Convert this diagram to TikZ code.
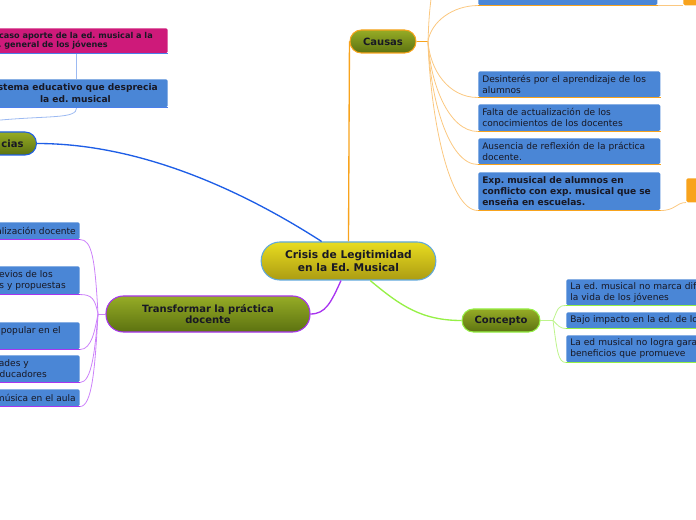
\documentclass[tikz,border=0pt]{standalone}
\usepackage{fontspec}
\setmainfont{DejaVu Sans}
\usepackage{tikz}
\frenchspacing
\definecolor{boxblue}{RGB}{74,134,214}
\definecolor{txt}{RGB}{24,24,36}
\definecolor{olivetop}{RGB}{150,172,38}
\definecolor{olivebot}{RGB}{92,114,16}
\definecolor{yeltop}{RGB}{232,220,32}
\definecolor{yelbot}{RGB}{172,156,18}
\definecolor{orangemain}{RGB}{248,163,28}
\definecolor{orangethin}{RGB}{251,200,128}
\definecolor{greenmain}{RGB}{150,240,70}
\definecolor{greenthin}{RGB}{190,244,140}
\definecolor{purplemain}{RGB}{168,52,240}
\definecolor{purplethin}{RGB}{204,130,250}
\definecolor{bluemain}{RGB}{30,94,230}
\definecolor{bluethin}{RGB}{156,186,242}
\definecolor{borderblue}{RGB}{96,168,220}
\definecolor{pinkbox}{RGB}{206,26,122}

\begin{document}
\begin{tikzpicture}[x=0.75pt, y=-0.75pt,
  pill/.style={draw, line width=0.8pt, rounded corners=8.5pt, top color=olivetop, bottom color=olivebot,
    text=txt, align=center, font=\fontsize{7.5}{8.5}\selectfont\bfseries},
  box/.style={fill=boxblue, rounded corners=1.2pt, inner xsep=3pt, inner ysep=1.5pt, align=left,
    text=txt, font=\fontsize{6.8}{8}\selectfont},
  ln/.style={inner sep=0pt, anchor=east, text=txt, font=\fontsize{6.8}{8}\selectfont},
  under/.style={line width=1.2pt},
  conn/.style={line width=0.6pt}]
\useasboundingbox (0,0) rectangle (696,520);
\clip (0,0) rectangle (696,520);

% central topic
\node[pill, draw=borderblue, top color=yeltop, bottom color=yelbot, rounded corners=14pt,
  minimum width=131pt, minimum height=28.5pt, font=\fontsize{8}{9.75}\selectfont\bfseries]
  (crisis) at (348.5,261) {Crisis de Legitimidad\\en la Ed. Musical};

% main branches
\node[pill, draw=orangemain, minimum width=49.5pt, minimum height=17.25pt] (causas) at (383,41.5) {Causas};
\node[pill, draw=greenmain, minimum width=58.5pt, minimum height=17.25pt] (concepto) at (501,320.5) {Concepto};
\node[pill, draw=purplemain, rounded corners=13pt, minimum width=153pt, minimum height=27pt]
  (transf) at (208,314) {Transformar la práctica\\docente};
\node[pill, draw=bluemain, anchor=east, minimum width=90pt, minimum height=17.25pt, inner xsep=9.75pt,
  text width=70.5pt, align=right] (cons) at (37,143.5) {cias};

% Causas
\node[box, anchor=north west, text width=128.25pt, minimum height=26.25pt] (c0) at (478,-30) {};
\node[box, anchor=north west, text width=130.5pt, minimum height=19.5pt] (c1) at (478,71)
  {Desinterés por el aprendizaje de los\\alumnos};
\node[box, anchor=north west, text width=130.5pt, minimum height=20.25pt] (c2) at (478,104)
  {Falta de actualización de los\\conocimientos de los docentes};
\node[box, anchor=north west, text width=130.5pt, minimum height=19.5pt] (c3) at (478,138)
  {Ausencia de reflexión de la práctica\\docente.};
\node[box, anchor=north west, text width=130.5pt, minimum height=28.5pt, font=\fontsize{6.8}{8.2}\selectfont\bfseries] (c4) at (478,172)
  {Exp. musical de alumnos en\\conflicto con exp. musical que se\\enseña en escuelas.};
\node[fill=orangemain, rounded corners=1.2pt, anchor=north west, minimum width=30pt, minimum height=18.75pt] (o1) at (683,-20) {};
\node[fill=orangemain, rounded corners=1.2pt, anchor=north west, minimum width=30pt, minimum height=18pt] (o2) at (686,178) {};

% Concepto
\node[box, anchor=north west, text width=150pt, minimum height=19.5pt] (k1) at (566,279)
  {La ed. musical no marca dif\\la vida de los jóvenes};
\node[box, anchor=north west, text width=150pt, minimum height=12pt] (k2) at (566,312)
  {Bajo impacto en la ed. de lo};
\node[box, anchor=north west, text width=150pt, minimum height=20.25pt] (k3) at (566,335)
  {La ed musical no logra gara\\beneficios que promueve};

% Transformar la practica docente
\node[box, anchor=north east, minimum width=150pt, minimum height=12.75pt] (p1) at (80,222) {};
\node[box, anchor=north east, minimum width=150pt, minimum height=21pt] (p2) at (80,266) {};
\node[box, anchor=north east, minimum width=150pt, minimum height=20.25pt] (p3) at (80,322) {};
\node[box, anchor=north east, minimum width=150pt, minimum height=20.25pt] (p4) at (80,355) {};
\node[box, anchor=north east, minimum width=150pt, minimum height=12.75pt] (p5) at (80,389) {};
\node[ln] (p1a) at (76,231) {alización docente};
\node[ln] (p2a) at (53,274) {evios de los};
\node[ln] (p2b) at (66,286) {s y propuestas};
\node[ln] (p3a) at (61,331) {popular en el};
\node[ln] (p4a) at (29,364) {ades y};
\node[ln] (p4b) at (47,374) {educadores};
\node[ln] (p5a) at (76,398) {música en el aula};

% Consecuencias
\node[box, fill=pinkbox, anchor=north east, minimum width=136.5pt, minimum height=18.75pt] (q1) at (168,28) {};
\node[box, anchor=north east, minimum width=136.5pt, minimum height=21pt] (q2) at (168,79) {};
\node[ln, font=\fontsize{6.1}{7}\selectfont\bfseries] (q1a) at (153,36) {caso aporte de la ed. musical a la};
\node[ln, font=\fontsize{6.1}{7}\selectfont\bfseries] (q1b) at (108,45) {. general de los jóvenes};
\node[ln, font=\fontsize{6.8}{8}\selectfont\bfseries] (q2a) at (158,88) {istema educativo que desprecia};
\node[ln, font=\fontsize{6.8}{8}\selectfont\bfseries] (q2b) at (111,99) {la ed. musical};

% main connectors
\draw[orangemain, line width=1pt] (crisis.north) -- (causas.west);
\draw[greenmain, line width=1pt] (crisis.-42) .. controls +(30,25) and +(-40,0) .. (concepto.west);
\draw[purplemain, line width=1pt] (crisis.-111) .. controls +(-10,22) and +(15,0) .. (transf.east);
\draw[bluemain, line width=1pt] (crisis.144) .. controls +(-70,-45) and +(110,0) .. (cons.east);

% Causas connectors
\coordinate (cb) at (428,41.5);
\coordinate (cup) at (432,-10);
\draw[orangemain, conn] (causas.east) -- (cb);
\draw[orangethin, conn] (cb) .. controls +(1,-25) .. (cup);
\draw[orangethin, conn] (cb) .. controls +(3,-20) and +(-25,0) .. (c0.south west);
\foreach \b/\d in {c1/28, c2/40, c3/55, c4/70}
  \draw[orangethin, conn] (cb) .. controls +(2,\d) and +(-30,0) .. (\b.south west);
\foreach \b in {c0, c1, c2, c3, c4}
  \draw[orangemain, under] (\b.south west) -- (\b.south east);
\draw[orangethin, conn] (c0.south east) -- (o1.south west);
\draw[orangethin, conn] (c4.south east) .. controls +(15,0) and +(-10,0) .. (o2.south west);

% Concepto connectors
\coordinate (kb) at (553,320.5);
\draw[greenthin, conn] (concepto.east) -- (kb);
\draw[greenthin, conn] (kb) .. controls +(5,-12) and +(-8,0) .. (k1.south west);
\draw[greenthin, conn] (kb) .. controls +(5,5) and +(-6,0) .. (k2.south west);
\draw[greenthin, conn] (kb) .. controls +(4,30) and +(-8,0) .. (k3.south west);
\foreach \b in {k1, k2, k3}
  \draw[greenmain, under] (\b.south west) -- (\b.south east);

% Transformar connectors
\coordinate (pb) at (98,314);
\draw[purplethin, conn] (transf.west) -- (pb);
\foreach \b/\d in {p1/-55, p2/-15, p3/15, p4/35, p5/55}
  \draw[purplethin, conn] (pb) .. controls +(-3,\d) and +(12,0) .. (\b.south east);
\foreach \b in {p1, p2, p3, p4, p5}
  \draw[purplemain, under] (\b.south west) -- (\b.south east);

% Consecuencias connectors
\coordinate (qb) at (-10,121);
\draw[bluethin, conn] (qb) .. controls +(60,-6) and +(0,12) .. (q2.south);
\draw[bluethin, conn] (q2.north) -- (q1.south);
\draw[bluemain!80, under] (q1.south west) -- (q1.south east);
\draw[bluemain!80, under] (q2.south west) -- (q2.south east);
\end{tikzpicture}
\end{document}
